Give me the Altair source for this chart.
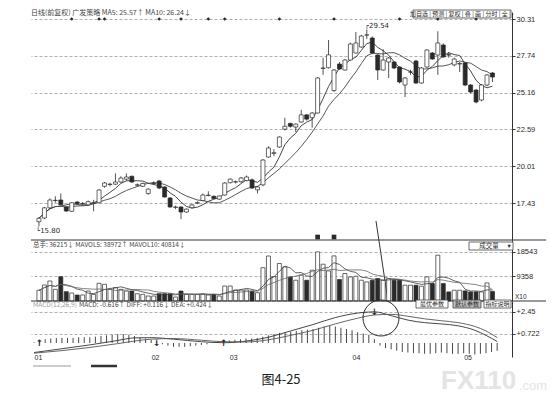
import altair as alt
import pandas as pd

# ---------------- data ----------------
opens = [16.12, 16.38, 17.09, 17.60, 17.64, 17.15, 16.85, 17.50, 17.38, 17.30,
         17.42, 17.45, 18.60, 18.72, 18.75, 18.90, 19.10, 19.30, 18.68, 18.60,
         18.10, 18.80, 18.97, 18.55, 17.78, 17.12, 17.15, 16.80, 17.10, 17.42,
         17.60, 17.95, 17.90, 17.70, 17.99, 18.85, 18.90, 18.92, 19.00, 19.05,
         18.35, 18.70, 20.65, 20.90, 21.35, 22.60, 23.00, 22.75, 23.10, 23.60,
         23.40, 23.73, 26.85, 26.90, 25.30, 27.16, 26.74, 27.44, 27.93, 28.35,
         29.18, 28.98, 27.79, 26.74, 27.30, 27.30, 26.95, 25.69, 26.60, 27.37,
         25.83, 26.95, 27.93, 27.79, 28.49, 27.80, 27.10, 27.16, 27.23, 25.69,
         25.34, 24.64, 25.69, 26.53]
highs = [16.45, 17.15, 17.75, 17.90, 18.10, 17.20, 17.50, 17.55, 17.50, 17.60,
         17.65, 18.40, 18.90, 18.85, 19.50, 19.30, 19.50, 19.35, 18.80, 18.85,
         18.45, 18.95, 19.05, 18.60, 17.85, 17.25, 17.20, 17.05, 17.35, 17.55,
         18.10, 18.25, 17.95, 17.95, 18.90, 19.15, 19.00, 19.25, 19.35, 19.15,
         18.60, 20.50, 21.40, 21.20, 22.10, 23.40, 23.05, 23.00, 23.95, 23.65,
         23.80, 26.25, 27.60, 28.84, 26.80, 27.30, 27.50, 28.65, 29.40, 29.20,
         29.54, 29.10, 27.85, 28.20, 27.65, 27.35, 27.00, 26.25, 26.75, 27.45,
         26.95, 28.20, 28.00, 29.45, 28.60, 28.00, 27.60, 27.30, 27.30, 25.75,
         25.40, 25.75, 26.45, 26.60]
lows = [15.80, 16.30, 17.00, 17.45, 17.25, 16.80, 16.80, 17.30, 17.25, 17.25,
        16.85, 17.40, 18.50, 18.60, 18.70, 18.85, 19.00, 18.85, 18.60, 18.55,
        18.00, 18.70, 18.40, 17.80, 17.10, 17.00, 16.30, 16.75, 17.05, 17.35,
        17.55, 17.90, 17.70, 17.65, 17.95, 18.80, 18.80, 18.85, 18.95, 18.40,
        18.10, 18.60, 20.60, 20.70, 21.30, 22.50, 22.70, 22.40, 23.05, 23.20,
        22.70, 23.70, 26.40, 26.85, 25.20, 26.75, 26.70, 27.40, 27.90, 28.30,
        28.90, 27.85, 26.04, 26.70, 26.18, 26.80, 25.80, 24.85, 26.40, 25.75,
        25.78, 26.90, 27.45, 26.40, 27.60, 27.60, 27.00, 26.60, 25.60, 25.10,
        24.40, 24.55, 25.60, 25.90]
closes = [16.36, 17.09, 17.64, 17.62, 17.30, 16.87, 17.45, 17.40, 17.40, 17.52,
          17.45, 18.34, 18.83, 18.75, 18.90, 19.18, 19.25, 18.90, 18.70, 18.80,
          18.40, 18.82, 18.48, 17.85, 17.15, 17.15, 16.80, 17.00, 17.30, 17.45,
          17.99, 17.98, 17.75, 17.92, 18.83, 19.10, 18.92, 19.18, 19.25, 18.48,
          18.55, 20.44, 21.28, 20.95, 22.05, 22.80, 22.80, 22.95, 23.60, 23.30,
          23.73, 26.18, 26.88, 27.80, 26.74, 26.81, 27.44, 28.56, 28.63, 29.12,
          29.20, 27.93, 26.74, 27.44, 27.58, 26.88, 25.90, 26.18, 26.60, 25.83,
          26.88, 28.14, 27.51, 28.63, 27.65, 27.79, 27.51, 27.20, 25.69, 25.20,
          24.50, 25.69, 26.39, 26.25]
volumes = [4050, 6050, 7560, 4410, 9200, 3530, 3020, 2270, 2270, 3780,
           2520, 6680, 6300, 4410, 5040, 4410, 3780, 3780, 2770, 2520,
           1890, 1890, 2770, 2770, 2770, 1510, 3780, 2520, 2520, 2520,
           2520, 2270, 2520, 1890, 5670, 5670, 4160, 4160, 4160, 3780,
           3150, 12600, 17000, 9200, 14170, 12890, 9110, 7860, 9750, 7860,
           11640, 18560, 13910, 11380, 17050, 8110, 10390, 9110, 9370, 7860,
           7220, 7860, 8500, 7860, 8500, 7860, 7860, 5970, 5970, 5970,
           5590, 9110, 6610, 17310, 6610, 3440, 4080, 4080, 3820, 3440,
           3440, 3440, 6840, 3620]
macd_hist = [0.05, 0.15, 0.30, 0.35, 0.40, 0.40, 0.40, 0.40, 0.45, 0.45,
             0.45, 0.50, 0.55, 0.60, 0.65, 0.70, 0.70, 0.65, 0.55, 0.45,
             0.35, 0.25, 0.10, -0.10, -0.20, -0.30, -0.30, -0.30, -0.25, -0.20,
             -0.15, -0.10, 0.05, 0.10, 0.15, 0.20, 0.25, 0.30, 0.35, 0.35,
             0.40, 0.50, 0.60, 0.70, 0.80, 0.85, 0.90, 0.95, 1.00, 1.05,
             1.10, 1.20, 1.30, 1.35, 1.30, 1.20, 1.10, 1.00, 0.85, 0.75,
             0.65, 0.30, -0.20, -0.40, -0.50, -0.60, -0.70, -0.75, -0.80, -0.80,
             -0.85, -0.85, -0.80, -0.75, -0.80, -0.85, -0.85, -0.80, -0.85, -0.90,
             -0.85, -0.80, -0.70, -0.62]
line_idx = [0, 5, 10, 15, 18, 21, 25, 30, 34, 38, 42, 46, 50, 54, 58, 61,
            64, 67, 70, 73, 76, 79, 81, 83]
diff_vals = [-0.75, -0.45, -0.15, 0.20, 0.40, 0.42, 0.30, 0.10, 0.02, 0.15,
             0.45, 0.95, 1.45, 2.00, 2.35, 2.45, 2.15, 1.80, 1.60, 1.50,
             1.35, 1.00, 0.60, 0.116]
dea_vals = [-0.80, -0.60, -0.35, -0.05, 0.15, 0.30, 0.35, 0.22, 0.10, 0.08,
            0.25, 0.60, 1.00, 1.50, 1.95, 2.20, 2.25, 2.10, 1.90, 1.75,
            1.60, 1.30, 0.95, 0.424]
cross_idx = [1, 22, 34, 61]
cross_sym = ["↑", "↓", "↑", "↓"]
event_idx = [6, 11, 12, 22, 26, 31, 34, 44, 54, 66, 73, 80]
mark_idx = [51, 54]
month_ticks = [0, 21, 35, 57, 77]
month_labels = ["01", "02", "03", "04", "05"]
price_ticks = [17.43, 20.01, 22.59, 25.16, 27.74, 30.31]
vol_ticks = [9358, 18543]
macd_ticks = [0.722, 2.45]

# ---------------- frames ----------------
N = len(closes)
df = pd.DataFrame({"idx": list(range(N)), "open": opens, "high": highs,
                   "low": lows, "close": closes, "vol": volumes, "macd": macd_hist})
lines_df = pd.DataFrame({"idx": line_idx, "diff": diff_vals, "dea": dea_vals})
diff_at = dict(zip(line_idx, diff_vals))
cross_df = pd.DataFrame({"idx": cross_idx, "s": cross_sym,
                         "v": [diff_at.get(i, 0.0) for i in cross_idx]})
i_lo = lows.index(min(lows))
i_hi = highs.index(max(highs))
lo_df = pd.DataFrame({"idx": [i_lo], "v": [lows[i_lo]], "t": ["└" + f"{lows[i_lo]:.2f}"]})
hi_df = pd.DataFrame({"idx": [i_hi], "v": [highs[i_hi]], "t": ["┌" + f"{highs[i_hi]:.2f}"]})

# ---------------- geometry / style ----------------
W = 481
H1, H2, H3 = 228, 61, 56
XDOM = [-0.54, 85.66]
FONT = "Noto Sans CJK SC"
NUM = "Liberation Sans"
INK = "#2a2a2a"

xs = alt.Scale(domain=XDOM, nice=False, zero=False)
X = alt.X("idx:Q", scale=xs, axis=None)
month_expr = ("['" + "','".join(month_labels) + "'][indexof([" +
              ",".join(str(t) for t in month_ticks) + "], datum.value)]")
XB = alt.X("idx:Q", scale=xs, title=None,
           axis=alt.Axis(values=month_ticks, labelExpr=month_expr, domain=False,
                         ticks=False, grid=False, labelAlign="left", labelFontSize=7,
                         labelFont=NUM, labelColor=INK, labelPadding=-4, labelOverlap=False,
                         labelFlush=False, labelBaseline="top"))

UPDOWN = alt.when("datum.close >= datum.open").then(alt.value("white")).otherwise(alt.value(INK))


def right_axis(values, fmt=None, expr=None):
    kw = dict(orient="right", values=values, grid=True, gridDash=[3, 2], gridColor="#7a7a7a",
              gridWidth=0.6, domainColor="#333", domainWidth=1, tickSize=3, tickColor="#333",
              labelFontSize=7.5, labelColor=INK, labelFont=NUM, labelPadding=1,
              title=None, labelOverlap=False)
    if fmt:
        kw["format"] = fmt
    if expr:
        kw["labelExpr"] = expr
    return alt.Axis(**kw)


ONE = pd.DataFrame({"a": [0]})


def txt(s, x, y, size=7, color=INK, align="left", baseline="middle", font=FONT, weight="normal"):
    return alt.Chart(pd.DataFrame({"t": [s]})).mark_text(
        align=align, baseline=baseline, fontSize=size, color=color, font=font,
        fontWeight=weight).encode(x=alt.value(x), y=alt.value(y), text="t:N")


def box(x1, y1, x2, y2, fill="white", stroke="#444"):
    return alt.Chart(ONE).mark_rect(fill=fill, stroke=stroke, strokeWidth=0.8).encode(
        x=alt.value(x1), x2=alt.value(x2), y=alt.value(y1), y2=alt.value(y2))


def seg(x1, y1, x2, y2, color="#333", width=0.8):
    return alt.Chart(ONE).mark_rule(color=color, strokeWidth=width).encode(
        x=alt.value(x1), x2=alt.value(x2), y=alt.value(y1), y2=alt.value(y2))


# ---------------- main (price) panel ----------------
ps = alt.Scale(domain=[14.84, 30.80], nice=False, zero=False)
ma_src = alt.Chart(df).transform_window(
    ma5="mean(close)", frame=[-4, 0], sort=[{"field": "idx"}]).transform_window(
    ma10="mean(close)", frame=[-9, 0], sort=[{"field": "idx"}])
ma5 = ma_src.mark_line(color="#333", strokeWidth=0.9).encode(
    x=X, y=alt.Y("ma5:Q", scale=ps, title=None, axis=right_axis(price_ticks, fmt=".2f")))
ma10 = ma_src.mark_line(color="#444", strokeWidth=0.9).encode(
    x=X, y=alt.Y("ma10:Q", scale=ps, title=None))
wick = alt.Chart(df).mark_rule(color=INK, strokeWidth=0.8).encode(
    x=X, y=alt.Y("low:Q", scale=ps, title=None), y2="high:Q")
body = alt.Chart(df).mark_bar(size=4, stroke=INK, strokeWidth=0.7).encode(
    x=X, y=alt.Y("open:Q", scale=ps, title=None), y2="close:Q", fill=UPDOWN)
events = alt.Chart(pd.DataFrame({"idx": event_idx})).mark_point(
    shape="diamond", filled=True, size=14, color=INK, opacity=1).encode(x=X, y=alt.value(7))
squares = alt.Chart(pd.DataFrame({"idx": mark_idx})).mark_point(
    shape="square", filled=True, size=22, color=INK, opacity=1).encode(x=X, y=alt.value(225))
lo_lab = alt.Chart(lo_df).mark_text(align="left", baseline="top", dx=-3, dy=1, fontSize=7,
                                    font="DejaVu Sans", color=INK).encode(
    x=X, y=alt.Y("v:Q", scale=ps, title=None), text="t:N")
hi_lab = alt.Chart(hi_df).mark_text(align="left", baseline="bottom", dx=-2, dy=-1, fontSize=7,
                                    font="DejaVu Sans", color=INK).encode(
    x=X, y=alt.Y("v:Q", scale=ps, title=None), text="t:N")

main = alt.layer(
    ma5, ma10, wick, body, events, squares, lo_lab, hi_lab,
    txt("日线(前复权)  广发策略  MA5: 25.57↑  MA10: 26.24↓", 0, 1, 7, color="#444"),
    box(382, -2, 480, 6),
    txt("加自选 | 预测 | 复权 | 叠 | 画 | 分时 | 全 | -", 431, 2, 6, align="center"),
    seg(345, 209, 357, 289, width=1),
).properties(width=W, height=H1)

# ---------------- volume panel ----------------
vs = alt.Scale(domain=[0, 23058], nice=False, zero=True)
vol_src = alt.Chart(df).transform_window(
    mv5="mean(vol)", frame=[-4, 0], sort=[{"field": "idx"}]).transform_window(
    mv10="mean(vol)", frame=[-9, 0], sort=[{"field": "idx"}])
vbars = alt.Chart(df).mark_bar(size=4, stroke=INK, strokeWidth=0.7).encode(
    x=X, y=alt.Y("vol:Q", scale=vs, title=None, axis=right_axis(vol_ticks, fmt="d")), fill=UPDOWN)
mv5 = vol_src.mark_line(color="#3a3a3a", strokeWidth=0.8).encode(
    x=X, y=alt.Y("mv5:Q", scale=vs, title=None))
mv10 = vol_src.mark_line(color="#666", strokeWidth=0.8).encode(
    x=X, y=alt.Y("mv10:Q", scale=vs, title=None))

vol = alt.layer(
    vbars, mv5, mv10,
    seg(0, 0, 515, 0, width=1),
    txt("总手: 36215↓  MAVOL5: 38972↑  MAVOL10: 40814↓", 2, 5, 6.5, color="#444"),
    box(438, 2, 482, 10),
    txt("成交量", 458, 6, 6.5, align="center"),
    txt("▾", 478, 6, 6.5, align="center", font="DejaVu Sans"),
    txt("X10", W + 3, H2 - 4, 6.5, font=NUM),
).properties(width=W, height=H2)

# ---------------- MACD panel ----------------
ms = alt.Scale(domain=[-1.10, 3.30], nice=False, zero=False)
mbars = alt.Chart(df).mark_rule(color="#333", strokeWidth=0.9).encode(
    x=XB, y=alt.Y("macd:Q", scale=ms, title=None,
                  axis=right_axis(macd_ticks, expr="'+' + datum.value")),
    y2=alt.datum(0))
diff_line = alt.Chart(lines_df).mark_line(interpolate="monotone", color="#333", strokeWidth=0.9).encode(
    x=XB, y=alt.Y("diff:Q", scale=ms, title=None))
dea_line = alt.Chart(lines_df).mark_line(interpolate="monotone", color="#555", strokeWidth=0.9).encode(
    x=XB, y=alt.Y("dea:Q", scale=ms, title=None))
crosses = alt.Chart(cross_df).mark_text(fontSize=9, font="DejaVu Sans", color=INK, fontWeight="bold").encode(
    x=XB, y=alt.Y("v:Q", scale=ms, title=None), text="s:N")
circle = alt.Chart(ONE).mark_point(shape="circle", size=1296, filled=False, color=INK,
                                   strokeWidth=1, opacity=1).encode(x=alt.value(350), y=alt.value(17))

macd = alt.layer(
    mbars, diff_line, dea_line, crosses, circle,
    seg(0, 0, 515, 0, width=1),
    txt("MACD(12,26,9)", 2, 4, 6.5, color="#9a9a9a"),
    txt("MACD: -0.616↑  DIFF: +0.116↓  DEA: +0.424↓", 48, 4, 6.5, color="#444"),
    box(385, -1, 417, 7), box(422, -1, 450, 7, fill="#bdbdbd"), box(453, -1, 480, 7),
    txt("最优参数", 401, 3, 6, align="center"),
    txt("默认参数", 436, 3, 6, align="center"),
    txt("指标说明", 466.5, 3, 6, align="center"),
    seg(2, 65, 40, 65, color="#999", width=1),
    seg(60, 65, 86, 65, color="#333", width=2.5),
    txt("FX110", 410, 80, 26, color="#e4e4e4", font="Liberation Sans", weight="bold"),
    txt(".com", 488, 85, 13, color="#e4e4e4", font="Liberation Sans"),
    txt("图4-25", 250, 79, 13, align="center", color="#222"),
).properties(width=W, height=H3)

chart = alt.vconcat(main, vol, macd, spacing=0, bounds="flush").properties(
    padding={"left": 22, "top": 1, "right": 0, "bottom": 2},
    background="white",
).configure_view(strokeWidth=0)

chart.save("out.html", embed_options={"renderer": "svg", "actions": False})
